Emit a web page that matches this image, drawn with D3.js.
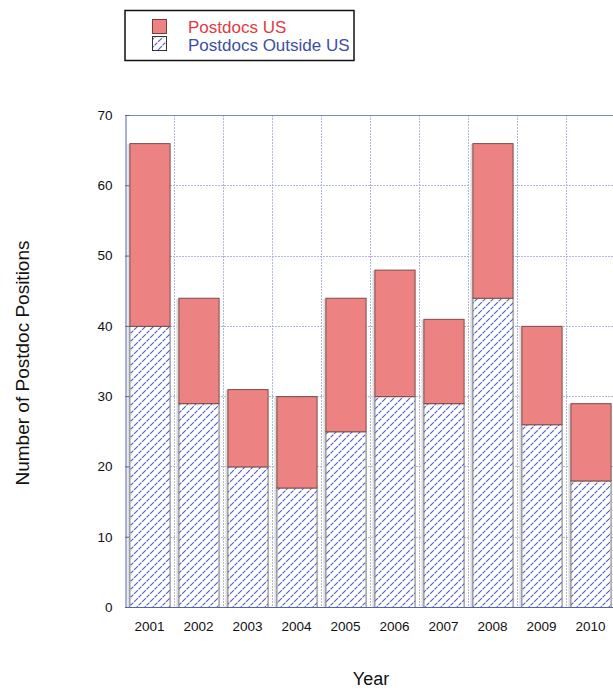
<!DOCTYPE html>
<html><head><meta charset="utf-8">
<script src="https://cdn.jsdelivr.net/npm/d3@7"></script>
<style>body{margin:0;background:#fff;} svg{display:block;font-family:"Liberation Sans",Arial,sans-serif;}</style>
</head><body>
<script>
const years = ["2001","2002","2003","2004","2005","2006","2007","2008","2009","2010"];
const outsideUS = [40,29,20,17,25,30,29,44,26,18];
const usOnly = [26,15,11,13,19,18,12,22,14,11];
const yTicks = [0,10,20,30,40,50,60,70];
const seriesNames = ["Postdocs US","Postdocs Outside US"];

const W=613,H=690;
const FONT="Liberation Sans, Arial, sans-serif";
const svg=d3.select("body").append("svg").attr("width",W).attr("height",H);
const defs=svg.append("defs");
const P=8;
const pat=defs.append("pattern").attr("id","hatch").attr("patternUnits","userSpaceOnUse")
  .attr("width",P).attr("height",P);
pat.append("rect").attr("width",P).attr("height",P).attr("fill","#fff");
pat.append("path").attr("d",`M-1,${P+1} L${P+1},-1 M-${P/2},${P/2} L${P/2},-${P/2} M${P/2},${P*1.5} L${P*1.5},${P/2}`)
  .attr("stroke","#4f5fc4").attr("stroke-width",1.1).attr("stroke-dasharray","4,1");

const m={l:125,t:115,b:607};
const x=d3.scaleBand().domain(years).range([m.l,m.l+490]).paddingInner(0.18).paddingOuter(0.09);
const y=d3.scaleLinear().domain([0,70]).range([m.b,m.t]);

const g=svg.append("g");
const xg=d3.scaleBand().domain(years).range([m.l,m.l+490]);
g.selectAll(".vg").data(years.slice(1)).enter().append("line")
 .attr("x1",d=>xg(d)+0.5).attr("x2",d=>xg(d)+0.5).attr("y1",m.t).attr("y2",m.b)
 .attr("stroke","#b0b6e0").attr("stroke-dasharray","2,1").attr("stroke-width",1);
g.selectAll(".hg").data(yTicks.slice(1,-1)).enter().append("line")
 .attr("x1",m.l).attr("x2",W).attr("y1",d=>Math.round(y(d))+0.5).attr("y2",d=>Math.round(y(d))+0.5)
 .attr("stroke","#b0b6e0").attr("stroke-dasharray","2,1").attr("stroke-width",1);
g.append("line").attr("x1",m.l).attr("x2",W).attr("y1",m.t+0.5).attr("y2",m.t+0.5).attr("stroke","#8088c8");

const stackData=years.map((yr,i)=>({yr,o:outsideUS[i],u:usOnly[i]}));
g.selectAll(".sh").data(stackData).enter().append("rect")
 .attr("x",d=>x(d.yr)-2).attr("width",3).attr("y",d=>y(d.o+d.u)+1).attr("height",d=>y(0)-y(d.o+d.u)-1)
 .attr("fill","#dcdcdc");
g.selectAll(".bo").data(stackData).enter().append("rect")
 .attr("x",d=>x(d.yr)+0.5).attr("width",x.bandwidth()).attr("y",d=>y(d.o)+0.5).attr("height",d=>y(0)-y(d.o))
 .attr("fill","url(#hatch)").attr("stroke","#777").attr("stroke-width",1);
g.selectAll(".bu").data(stackData).enter().append("rect")
 .attr("x",d=>x(d.yr)+0.5).attr("width",x.bandwidth()).attr("y",d=>y(d.o+d.u)+0.5).attr("height",d=>y(d.o)-y(d.o+d.u))
 .attr("fill","#ec8282").attr("stroke","#7a4a4a").attr("stroke-width",1);

const ya=g.append("g").attr("transform",`translate(${m.l+0.5},0)`)
 .call(d3.axisLeft(y).tickValues(yTicks).tickSize(-4).tickPadding(13));
ya.select(".domain").attr("stroke","#5560b0");
ya.selectAll(".tick line").attr("stroke","#5560b0");
ya.selectAll("text").attr("font-size",13.5).attr("fill","#111").attr("font-family",FONT);
const xa=g.append("g").attr("transform",`translate(0,${m.b+0.5})`)
 .call(d3.axisBottom(xg).tickSize(0).tickPadding(14));
xa.select(".domain").attr("stroke","#5560b0").attr("d",`M${m.l},0H${W}`);
xa.selectAll("text").attr("font-size",13.5).attr("fill","#111").attr("font-family",FONT);

svg.append("text").attr("x",371).attr("y",685).attr("text-anchor","middle").attr("font-size",18).attr("fill","#111").attr("font-family",FONT).text("Year");
svg.append("text").attr("transform","translate(29,363) rotate(-90)").attr("text-anchor","middle").attr("font-size",19).attr("fill","#111").attr("font-family",FONT).text("Number of Postdoc Positions");

const lg=svg.append("g");
lg.append("rect").attr("x",125).attr("y",10.5).attr("width",229).attr("height",50).attr("fill","#fff").attr("stroke","#111").attr("stroke-width",1.5);
lg.append("rect").attr("x",152.5).attr("y",19.5).attr("width",14).attr("height",14).attr("fill","#ec8282").attr("stroke","#7a3a3a");
lg.append("rect").attr("x",152.5).attr("y",36.5).attr("width",14).attr("height",14).attr("fill","url(#hatch)").attr("stroke","#333");
lg.append("text").attr("x",188).attr("y",33).attr("font-size",17).attr("fill","#e03a44").attr("font-family",FONT).text(seriesNames[0]);
lg.append("text").attr("x",188).attr("y",51).attr("font-size",17).attr("fill","#3d4ea6").attr("font-family",FONT).text(seriesNames[1]);
</script>
</body></html>
